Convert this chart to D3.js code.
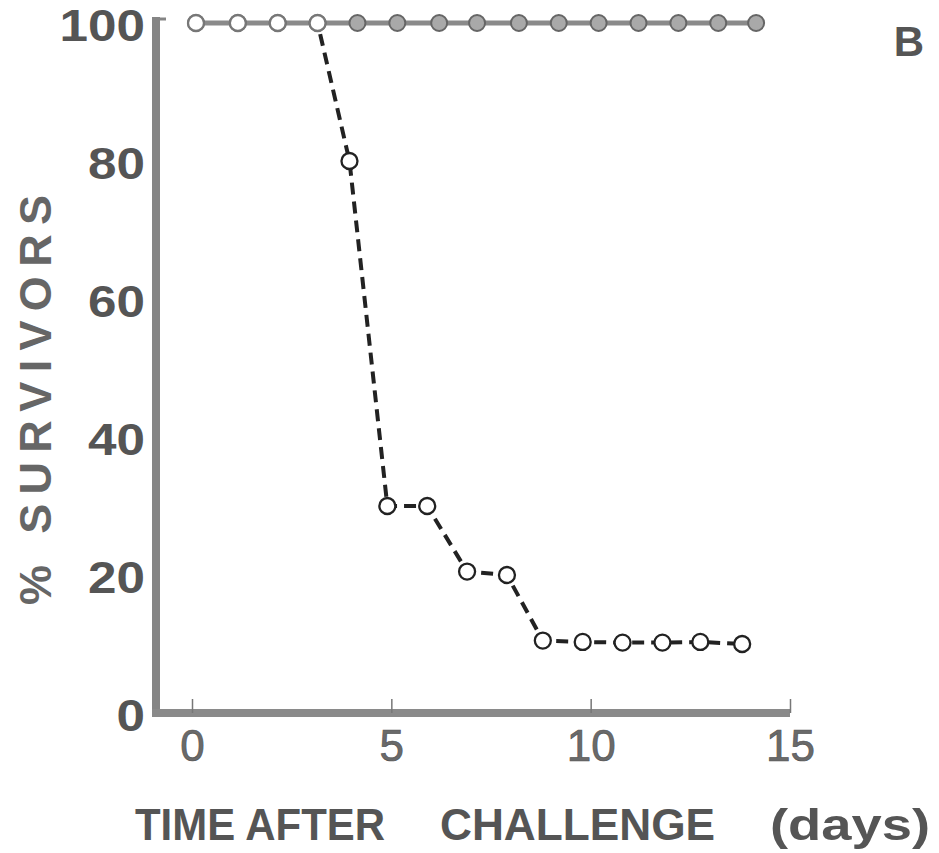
<!DOCTYPE html>
<html><head><meta charset="utf-8">
<script src="https://cdn.jsdelivr.net/npm/d3@7"></script>
<style>body{margin:0;background:#fff}</style></head>
<body><svg id="c" width="939" height="853"></svg>
<script>
const xTicks = [0, 5, 10, 15];
const yTicks = [0, 20, 40, 60, 80, 100];
const controlDays = [0.1, 1.15, 2.15, 3.15, 4.15, 5.15, 6.2, 7.15, 8.2, 9.2, 10.2, 11.2, 12.2, 13.2, 14.15];
const controlSurv = [100, 100, 100, 100, 100, 100, 100, 100, 100, 100, 100, 100, 100, 100, 100];
const challDays = [0.1, 1.15, 2.15, 3.15, 3.95, 4.9, 5.9, 6.9, 7.9, 8.8, 9.8, 10.8, 11.8, 12.75, 13.8];
const challSurv = [100, 100, 100, 100, 80, 30, 30, 20.5, 20, 10.5, 10.3, 10.2, 10.2, 10.3, 10];
const yTitle = "% SURVIVORS";
const xTitleParts = ["TIME AFTER", "CHALLENGE", "(days)"];
const panelLabel = "B";

const svg = d3.select("#c");
const x = d3.scaleLinear().domain([0, 15]).range([192, 790]);
const y = d3.scaleLinear().domain([0, 100]).range([713, 23]);
const font = "'Liberation Sans', Arial, sans-serif";

// axis lines
svg.append("line").attr("x1", 156).attr("x2", 156).attr("y1", 17).attr("y2", 717)
  .attr("stroke", "#858585").attr("stroke-width", 8);
svg.append("line").attr("x1", 152).attr("x2", x(15)).attr("y1", y(0)).attr("y2", y(0))
  .attr("stroke", "#8a8a8a").attr("stroke-width", 8);
svg.append("line").attr("x1", 156).attr("x2", 166).attr("y1", 19).attr("y2", 19)
  .attr("stroke", "#858585").attr("stroke-width", 3);

const gx = svg.append("g").attr("transform", `translate(0,${y(0)})`)
  .call(d3.axisBottom(x).tickValues(xTicks).tickSize(-14).tickSizeOuter(0).tickPadding(17));
gx.select(".domain").remove();
gx.selectAll(".tick line").attr("stroke", "#777").attr("stroke-width", 1.5);
gx.selectAll(".tick text").attr("font-family", font).attr("font-size", 44)
  .attr("fill", "#6a6a6a").attr("stroke", "#555").attr("stroke-width", 0.7);

const gy = svg.append("g").attr("transform", "translate(156,0)")
  .call(d3.axisLeft(y).tickValues(yTicks).tickSize(0).tickPadding(11));
gy.select(".domain").remove();
gy.selectAll(".tick text").attr("font-family", font).attr("font-size", 44)
  .attr("font-weight", "bold").attr("fill", "#555").attr("dy", "0.4em")
  .attr("textLength", d => String(d).length * 28.5).attr("lengthAdjust", "spacingAndGlyphs");

// titles
svg.append("text").attr("transform", "translate(51,400) rotate(-90)")
  .attr("text-anchor", "middle").attr("font-family", font).attr("font-weight", "bold")
  .attr("font-size", 45).attr("fill", "#666")
  .attr("textLength", 410).attr("lengthAdjust", "spacing").text(yTitle);

const xPos = [[135, 250], [440, 275], [770, 160]];
xTitleParts.forEach((t, i) => {
  svg.append("text").attr("x", xPos[i][0]).attr("y", 840)
    .attr("font-family", font).attr("font-weight", "bold").attr("font-size", 44)
    .attr("fill", "#555").attr("textLength", xPos[i][1]).attr("lengthAdjust", "spacingAndGlyphs")
    .text(t);
});

svg.append("text").attr("x", 909).attr("y", 56).attr("text-anchor", "middle")
  .attr("font-family", font).attr("font-weight", "bold").attr("font-size", 42)
  .attr("fill", "#555").text(panelLabel);

// series
const control = controlDays.map((d, i) => ({x: d, y: controlSurv[i]}));
const chall = challDays.map((d, i) => ({x: d, y: challSurv[i]}));
const line = d3.line().x(d => x(d.x)).y(d => y(d.y));

svg.append("path").datum(chall).attr("d", line).attr("fill", "none")
  .attr("stroke", "#222").attr("stroke-width", 4).attr("stroke-dasharray", "12,7");
svg.append("path").datum(control).attr("d", line).attr("fill", "none")
  .attr("stroke", "#8a8a8a").attr("stroke-width", 5);

svg.selectAll("circle.ctl").data(control).enter().append("circle").attr("class", "ctl")
  .attr("cx", d => x(d.x)).attr("cy", d => y(d.y)).attr("r", 8)
  .attr("fill", "#a9a9a9").attr("stroke", "#666").attr("stroke-width", 2);
svg.selectAll("circle.ch").data(chall).enter().append("circle").attr("class", "ch")
  .attr("cx", d => x(d.x)).attr("cy", d => y(d.y)).attr("r", 8)
  .attr("fill", "#fff").attr("stroke", (d, i) => i < 4 ? "#777" : "#222").attr("stroke-width", 2.3);
</script>
</body></html>
